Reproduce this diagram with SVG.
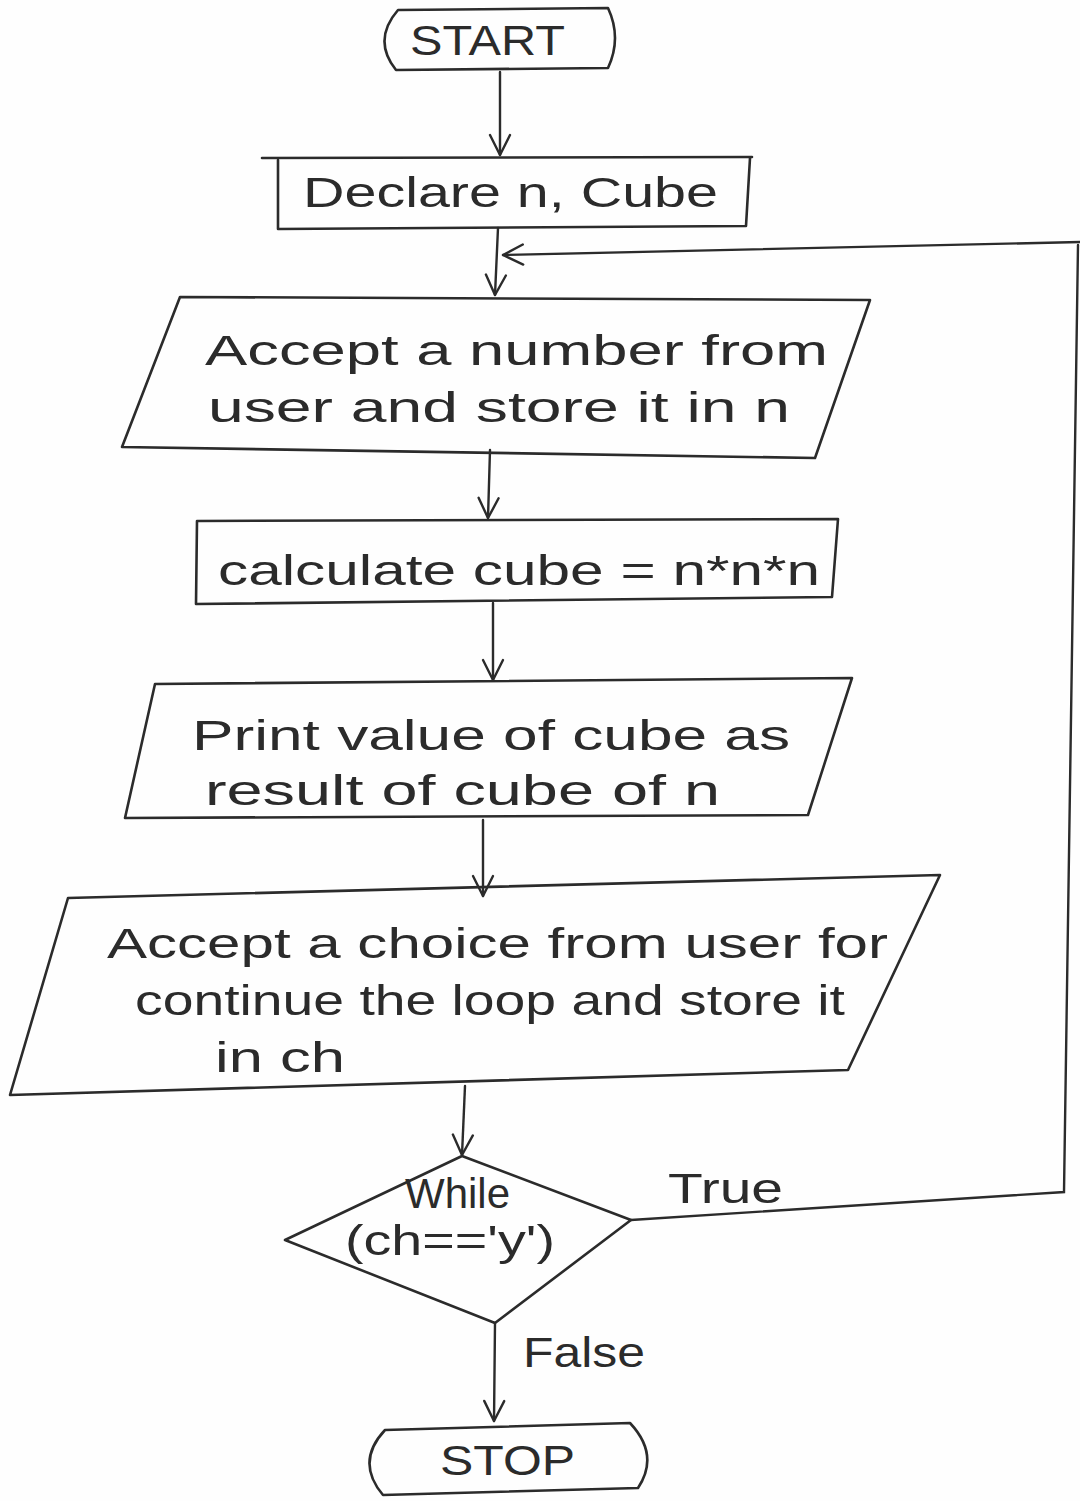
<svg xmlns="http://www.w3.org/2000/svg" width="1080" height="1501" viewBox="0 0 1080 1501">
  <defs>
    <style>
      .shape { fill: none; stroke: #2b2b2b; stroke-width: 2.6; stroke-linejoin: round; stroke-linecap: round; }
      .edge { fill: none; stroke: #2b2b2b; stroke-width: 2.4; stroke-linecap: round; }
      .lbl { font-family: "Liberation Sans", "DejaVu Sans", sans-serif; fill: #2b2b2b; font-size: 42px; }
    </style>
    <marker id="arrow" viewBox="0 0 24 24" refX="22" refY="12" markerWidth="24" markerHeight="24" markerUnits="userSpaceOnUse" orient="auto">
      <path d="M2,2 L22,12 L2,22" fill="none" stroke="#2b2b2b" stroke-width="2.4" stroke-linecap="round" stroke-linejoin="round"/>
    </marker>
  </defs>
  <rect width="1080" height="1501" fill="#fefefe"/>

  <!-- connectors -->
  <g id="connectors">
    <path class="edge" d="M500,72 L500,155" marker-end="url(#arrow)"/>
    <path class="edge" d="M498,228 L495,295" marker-end="url(#arrow)"/>
    <path class="edge" d="M490,450 L488,518" marker-end="url(#arrow)"/>
    <path class="edge" d="M493,603 L493,680" marker-end="url(#arrow)"/>
    <path class="edge" d="M483,820 L483,896" marker-end="url(#arrow)"/>
    <path class="edge" d="M465,1086 L462,1155" marker-end="url(#arrow)"/>
    <path class="edge" d="M495,1323 L494,1421" marker-end="url(#arrow)"/>
    <!-- loop back on True -->
    <path class="edge" d="M631,1220 L1064,1192 L1078,245"/>
    <path class="edge" d="M1080,242 L503,255" marker-end="url(#arrow)"/>
    <text class="lbl" x="668" y="1203" font-size="40" textLength="115" lengthAdjust="spacingAndGlyphs">True</text>
    <text class="lbl" x="523" y="1367" font-size="38" textLength="122" lengthAdjust="spacingAndGlyphs">False</text>
  </g>

  <g id="start">
    <path class="shape" d="M398,10 L608,8 Q622,38 608,68 L396,70 Q372,40 398,10 Z"/>
    <text class="lbl" x="410" y="55" font-size="38" textLength="155" lengthAdjust="spacingAndGlyphs">START</text>
  </g>

  <g id="declare">
    <path class="shape" d="M278,160 L278,229 L746,226 L750,158"/>
    <path class="shape" d="M262,158 L752,157"/>
    <text class="lbl" x="303" y="207" textLength="415" lengthAdjust="spacingAndGlyphs">Declare n, Cube</text>
  </g>

  <g id="input-n">
    <path class="shape" d="M180,297 L870,300 L815,458 L122,447 Z"/>
    <text class="lbl" x="205" y="365" textLength="623" lengthAdjust="spacingAndGlyphs">Accept a number from</text>
    <text class="lbl" x="208" y="422" textLength="582" lengthAdjust="spacingAndGlyphs">user and store it in n</text>
  </g>

  <g id="calculate">
    <path class="shape" d="M197,521 L838,519 L832,597 L196,604 Z"/>
    <text class="lbl" x="218" y="585" textLength="602" lengthAdjust="spacingAndGlyphs">calculate cube = n*n*n</text>
  </g>

  <g id="print">
    <path class="shape" d="M155,684 L852,678 L808,815 L125,818 Z"/>
    <text class="lbl" x="192" y="750" textLength="598" lengthAdjust="spacingAndGlyphs">Print value of cube as</text>
    <text class="lbl" x="205" y="805" textLength="515" lengthAdjust="spacingAndGlyphs">result of cube of n</text>
  </g>

  <g id="input-ch">
    <path class="shape" d="M68,898 L940,875 L848,1070 L10,1095 Z"/>
    <text class="lbl" x="107" y="958" textLength="781" lengthAdjust="spacingAndGlyphs">Accept a choice from user for</text>
    <text class="lbl" x="135" y="1015" textLength="710" lengthAdjust="spacingAndGlyphs">continue the loop and store it</text>
    <text class="lbl" x="215" y="1072" textLength="130" lengthAdjust="spacingAndGlyphs">in ch</text>
  </g>

  <g id="decision">
    <path class="shape" d="M462,1156 L631,1220 L495,1323 L285,1240 Z"/>
    <text class="lbl" x="405" y="1208" font-size="34" textLength="105" lengthAdjust="spacingAndGlyphs">While</text>
    <text class="lbl" x="345" y="1255" font-size="36" textLength="210" lengthAdjust="spacingAndGlyphs">(ch=='y')</text>
  </g>

  <g id="stop">
    <path class="shape" d="M385,1430 L630,1423 Q660,1455 638,1488 L383,1495 Q355,1462 385,1430 Z"/>
    <text class="lbl" x="440" y="1475" font-size="38" textLength="135" lengthAdjust="spacingAndGlyphs">STOP</text>
  </g>
</svg>
